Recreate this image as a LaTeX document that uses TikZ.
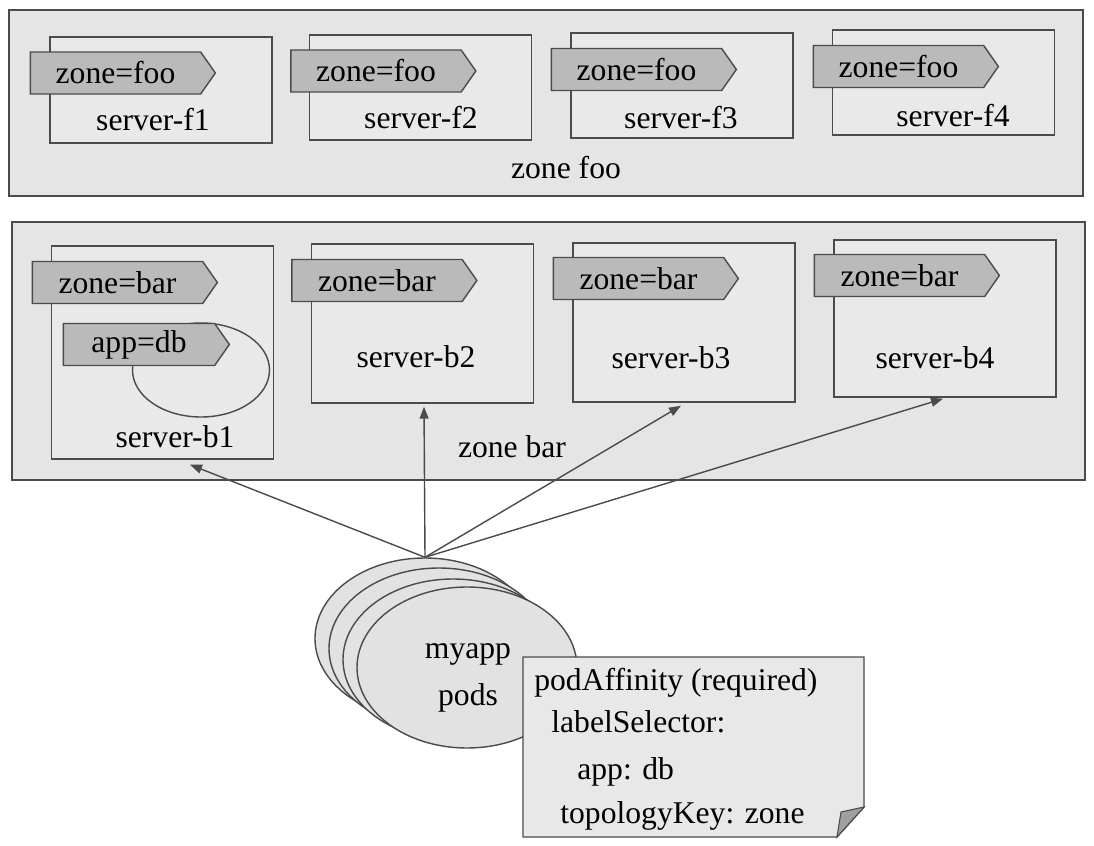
\documentclass[tikz,border=0pt]{standalone}
\usepackage{fontspec}
\setmainfont{Liberation Serif}
\usetikzlibrary{shapes.geometric,shapes.symbols,arrows.meta}
\definecolor{lineg}{RGB}{75,75,75}
\definecolor{zonefill}{RGB}{229,229,229}
\definecolor{srvfill}{RGB}{233,233,233}
\definecolor{tagfill}{RGB}{186,186,186}
\definecolor{podfill}{RGB}{226,226,226}
\definecolor{notefill}{RGB}{232,232,232}
\definecolor{foldfill}{RGB}{160,160,160}
\tikzset{
  zonebox/.style={draw=lineg, line width=1pt, fill=zonefill},
  srv/.style={draw=lineg, line width=0.8pt, fill=srvfill, minimum width=4.44cm},
  tagbox/.style={shape=signal, signal to=east, signal pointer angle=110, draw=lineg,
    line width=0.8pt, fill=tagfill, minimum width=3.7cm, minimum height=0.84cm},
  pod/.style={ellipse, draw=lineg, line width=0.8pt, fill=podfill,
    minimum width=4.4cm, minimum height=3.22cm},
  arr/.style={draw=lineg, line width=0.8pt, -{Triangle[length=0.24cm,width=0.18cm]}}
}
\begin{document}
\begin{tikzpicture}[x=0.2cm, y=0.2cm]
\tikzstyle{every node}+=[inner sep=0pt, font=\fontsize{18}{21}\selectfont]
\useasboundingbox (0,0) rectangle (109.4,-84.6);
% zones
\draw [zonebox] (0.9,-1.0) rectangle (108.3,-19.6);
\draw [zonebox] (1.2,-22.2) rectangle (108.5,-48.0);
% servers in zone foo
\node [srv, minimum height=2.12cm] (f1) at (16.1,-9.0) {};
\node [srv, minimum height=2.1cm] (f2) at (42.05,-8.75) {};
\node [srv, minimum height=2.1cm] (f3) at (68.2,-8.55) {};
\node [srv, minimum height=2.1cm] (f4) at (94.35,-8.25) {};
% servers in zone bar
\node [srv, minimum height=4.26cm] (b1) at (16.25,-35.25) {};
\node [srv, minimum height=3.18cm] (b2) at (42.25,-32.35) {};
\node [srv, minimum height=3.18cm] (b3) at (68.4,-32.25) {};
\node [srv, minimum height=3.14cm] (b4) at (94.5,-31.85) {};
\node [ellipse, draw=lineg, line width=0.8pt, minimum width=2.74cm, minimum height=1.88cm] (dbpod) at (20.1,-37.0) {};
% labels
\node [tagbox] (tf1) at (11.55,-7.3) {zone=foo};
\node [tagbox] (tf2) at (37.6,-7.1) {zone=foo};
\node [tagbox] (tf3) at (63.65,-6.95) {zone=foo};
\node [tagbox] (tf4) at (89.85,-6.65) {zone=foo};
\node [tagbox] (tb1) at (11.75,-28.25) {zone=bar};
\node [tagbox] (tb2) at (37.7,-28.05) {zone=bar};
\node [tagbox] (tb3) at (63.85,-27.85) {zone=bar};
\node [tagbox] (tb4) at (89.95,-27.55) {zone=bar};
\node [tagbox, minimum width=3.32cm] (tapp) at (13.9,-34.45) {app=db};
% names
\node (lf1) at (15.3,-12.0) {server-f1};
\node (lf2) at (42.1,-11.8) {server-f2};
\node (lf3) at (68.1,-11.8) {server-f3};
\node (lf4) at (95.3,-11.6) {server-f4};
\node (lb1) at (17.5,-43.7) {server-b1};
\node (lb2) at (41.6,-35.7) {server-b2};
\node (lb3) at (67.1,-35.8) {server-b3};
\node (lb4) at (93.5,-35.8) {server-b4};
\node (lfoo) at (56.6,-16.8) {zone foo};
\node (lbar) at (51.2,-44.7) {zone bar};
% pods
\node [pod] (pod1) at (42.5,-63.85) {};
\node [pod] (pod2) at (43.9,-64.85) {};
\node [pod] (pod3) at (45.3,-65.95) {};
\node [pod] (pod4) at (46.7,-66.75) {};
\node [align=center, font=\fontsize{18}{26.6}\selectfont] (podtxt) at (46.8,-67.8) {myapp\\pods};
% affinity note
\draw [draw=lineg, line width=0.8pt, fill=notefill] (52.3,-65.7) -- (86.4,-65.7) -- (86.4,-80.7)
  -- (83.7,-83.7) -- (52.3,-83.7) -- cycle;
\draw [draw=lineg, line width=0.6pt, fill=foldfill] (86.4,-80.7) -- (84.1,-81.2) -- (83.7,-83.7) -- cycle;
\node [anchor=base west] (naff) at (53.4,-69.0) {podAffinity (required)};
\node [anchor=base west] (nsel) at (55.1,-73.2) {labelSelector:};
\node [anchor=base west] (napp) at (57.7,-77.9) {app: db};
\node [anchor=base west] (ntop) at (56.0,-82.3) {topologyKey: zone};
% scheduling
\draw [arr] (pod1.north) -- ([xshift=0.55cm,yshift=-0.1cm]b1.south);
\draw [arr] (pod1.north) -- ([xshift=0.03cm,yshift=-0.06cm]b2.south);
\draw [arr] (pod1.north) -- ([xshift=-0.06cm,yshift=-0.06cm]b3.south);
\draw [arr] (pod1.north) -- ([xshift=-0.04cm,yshift=-0.02cm]b4.south);
\end{tikzpicture}
\end{document}
